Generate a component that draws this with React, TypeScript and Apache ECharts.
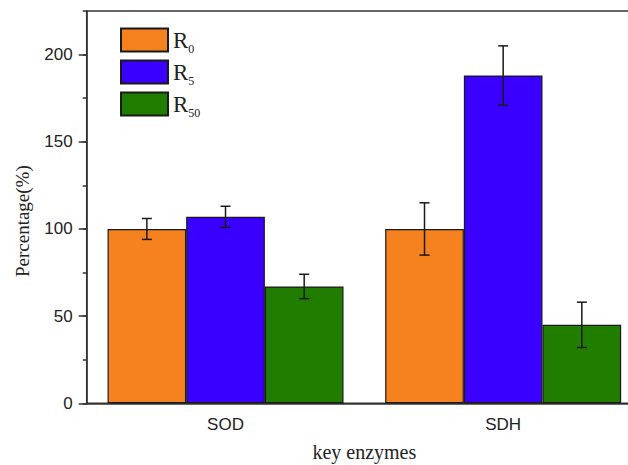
import React, { useEffect, useRef } from "react";
import * as echarts from "echarts";

const categories = ["SOD", "SDH"];
const seriesNames = ["R0", "R5", "R50"];
const seriesColors = ["#F5821F", "#3A00FF", "#217D00"];
const r0Values = [100, 100];
const r0Errors = [6, 15];
const r5Values = [107, 188];
const r5Errors = [6, 17];
const r50Values = [67, 45];
const r50Errors = [7, 13];
const yTicks = { min: 0, max: 225, interval: 50, minorInterval: 25 };

const allValues = [r0Values, r5Values, r50Values];
const allErrors = [r0Errors, r5Errors, r50Errors];

const CATEGORY_GAP = 0.15;

export default function App() {
  const ref = useRef<HTMLDivElement>(null);

  useEffect(() => {
    if (!ref.current) return;
    const chart = echarts.init(ref.current, undefined, { renderer: "svg" });

    const barSeries = seriesNames.map((name, si) => ({
      name,
      type: "bar",
      xAxisIndex: 0,
      yAxisIndex: 0,
      barGap: "0%",
      barCategoryGap: CATEGORY_GAP * 100 + "%",
      data: allValues[si],
      itemStyle: { color: seriesColors[si], borderColor: "#1a1a1a", borderWidth: 1.2 },
      z: 2,
    }));

    const errSeries = seriesNames.map((name, si) => ({
      name: name + "_err",
      type: "custom",
      xAxisIndex: 0,
      yAxisIndex: 0,
      z: 5,
      data: allValues[si].map((v, ci) => [ci, v - allErrors[si][ci], v + allErrors[si][ci]]),
      renderItem: (params: any, api: any) => {
        const cat = api.value(0);
        const lo = api.value(1);
        const hi = api.value(2);
        const band = api.size([1, 0])[0];
        const bw = (band * (1 - CATEGORY_GAP)) / 3;
        const off = (si - 1) * bw;
        const pLo = api.coord([cat, lo]);
        const pHi = api.coord([cat, hi]);
        const x = pLo[0] + off;
        const cap = 5;
        const style = { stroke: "#1a1a1a", lineWidth: 1.5 };
        return {
          type: "group",
          children: [
            { type: "line", shape: { x1: x, y1: pHi[1], x2: x, y2: pLo[1] }, style },
            { type: "line", shape: { x1: x - cap, y1: pHi[1], x2: x + cap, y2: pHi[1] }, style },
            { type: "line", shape: { x1: x - cap, y1: pLo[1], x2: x + cap, y2: pLo[1] }, style },
          ],
        };
      },
    }));

    const option: any = {
      animation: false,
      backgroundColor: "#ffffff",
      grid: {
        left: 86.7,
        top: 11,
        bottom: 61.7,
        right: -14,
        show: true,
        borderColor: "#333",
        borderWidth: 1.5,
        containLabel: false,
        outerBoundsMode: "none",
      },
      legend: {
        data: seriesNames,
        orient: "vertical",
        left: 115,
        top: 20,
        itemWidth: 47,
        itemHeight: 23,
        itemGap: 2,
        icon: "rect",
        formatter: (name: string) => `{r|R}{s|${name.slice(1)}}`,
        textStyle: {
          rich: {
            r: { fontFamily: "Liberation Serif", fontSize: 23, lineHeight: 30, color: "#222" },
            s: { fontFamily: "Liberation Serif", fontSize: 12, lineHeight: 12, color: "#222", padding: [18, 0, 0, 0] },
          },
        },
      },
      xAxis: [
        {
          type: "category",
          data: categories,
          position: "bottom",
          name: "key enzymes",
          nameLocation: "middle",
          nameGap: 39,
          nameTextStyle: { fontFamily: "Liberation Serif", fontSize: 20, color: "#222" },
          axisLine: { lineStyle: { color: "#333", width: 1.5 } },
          axisTick: { alignWithLabel: true, length: 8, lineStyle: { color: "#333", width: 1.5 } },
          axisLabel: { fontFamily: "Liberation Sans", fontSize: 17, color: "#222", margin: 13 },
          splitLine: { show: false },
        },
        {
          type: "category",
          data: categories,
          position: "bottom",
          axisLine: { show: false },
          axisTick: { alignWithLabel: false, length: 4, lineStyle: { color: "#333", width: 1.5 } },
          axisLabel: { show: false },
          splitLine: { show: false },
        },
      ],
      yAxis: [
        {
          type: "value",
          min: yTicks.min,
          max: yTicks.max,
          interval: yTicks.interval,
          position: "left",
          name: "Percentage(%)",
          nameLocation: "middle",
          nameGap: 55,
          nameTextStyle: { fontFamily: "Liberation Serif", fontSize: 19, color: "#222", padding: [0, 0, 0, -28] },
          axisLine: { show: true, lineStyle: { color: "#333", width: 1.5 } },
          axisTick: { show: true, length: 8, lineStyle: { color: "#333", width: 1.5 } },
          axisLabel: { fontFamily: "Liberation Sans", fontSize: 17, color: "#222", margin: 14, showMaxLabel: false },
          splitLine: { show: false },
        },
        {
          type: "value",
          min: yTicks.min,
          max: yTicks.max,
          interval: yTicks.minorInterval,
          position: "left",
          axisLine: { show: false },
          axisTick: { show: true, length: 4, lineStyle: { color: "#333", width: 1.5 } },
          axisLabel: { show: false },
          splitLine: { show: false },
        },
      ],
      series: [...barSeries, ...errSeries],
    };

    chart.setOption(option);
    return () => chart.dispose();
  }, []);

  return (
    <div
      ref={ref}
      style={{ position: "fixed", left: 0, top: 0, width: 628, height: 465 }}
    />
  );
}
